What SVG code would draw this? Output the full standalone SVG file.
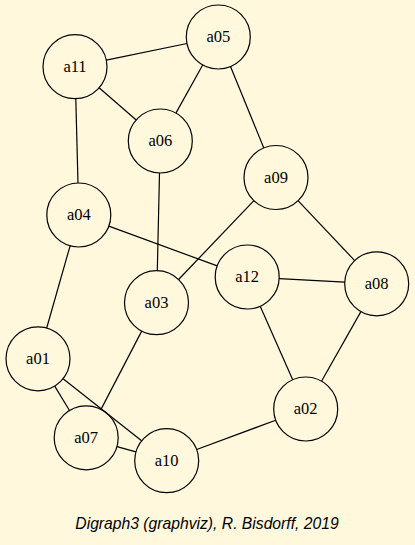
<svg xmlns="http://www.w3.org/2000/svg" width="415" height="545" viewBox="0 0 415 545">
  <style>
    .node circle { fill: none; stroke: #000; stroke-width: 1.2; }
    .node text { font-family: "Liberation Serif", "Times New Roman", serif; font-size: 16.5px; text-anchor: middle; fill: #000; }
    .edges line { stroke: #000; stroke-width: 1.2; }
    .caption { font-family: "Liberation Sans", Arial, sans-serif; font-size: 15.7px; font-style: italic; text-anchor: middle; fill: #000; }
  </style>
  <rect width="415" height="545" fill="#FFF8DC"/>

  <g id="edges" class="edges">
    <line x1="106.3" y1="60.2" x2="187.0" y2="43.5"/>
    <line x1="99.1" y1="87.7" x2="136.2" y2="120.0"/>
    <line x1="202.7" y1="65.0" x2="175.9" y2="113.1"/>
    <line x1="230.5" y1="66.6" x2="263.8" y2="147.9"/>
    <line x1="75.8" y1="98.7" x2="78.0" y2="183.0"/>
    <line x1="159.5" y1="173.0" x2="157.3" y2="270.7"/>
    <line x1="253.9" y1="200.6" x2="178.6" y2="279.5"/>
    <line x1="298.0" y1="200.7" x2="354.7" y2="260.6"/>
    <line x1="108.8" y1="226.1" x2="217.2" y2="265.9"/>
    <line x1="70.1" y1="245.8" x2="46.7" y2="328.0"/>
    <line x1="279.2" y1="278.7" x2="344.7" y2="282.1"/>
    <line x1="260.2" y1="306.3" x2="292.7" y2="379.7"/>
    <line x1="360.9" y1="311.6" x2="321.5" y2="381.2"/>
    <line x1="141.7" y1="331.1" x2="101.0" y2="409.4"/>
    <line x1="54.7" y1="386.1" x2="69.5" y2="410.5"/>
    <line x1="63.1" y1="378.7" x2="141.6" y2="440.8"/>
    <line x1="117.0" y1="446.6" x2="135.9" y2="451.9"/>
    <line x1="196.7" y1="449.5" x2="275.7" y2="420.2"/>
  </g>

  <g id="a05" class="node"><circle cx="218.3" cy="37" r="32"/><text x="218.3" y="42">a05</text></g>
  <g id="a11" class="node"><circle cx="75" cy="66.7" r="32"/><text x="75" y="71.7">a11</text></g>
  <g id="a06" class="node"><circle cx="160.3" cy="141" r="32"/><text x="160.3" y="146">a06</text></g>
  <g id="a09" class="node"><circle cx="276" cy="177.5" r="32"/><text x="276" y="182.5">a09</text></g>
  <g id="a04" class="node"><circle cx="78.8" cy="215" r="32"/><text x="78.8" y="220">a04</text></g>
  <g id="a03" class="node"><circle cx="156.5" cy="302.7" r="32"/><text x="156.5" y="307.7">a03</text></g>
  <g id="a12" class="node"><circle cx="247.2" cy="277" r="32"/><text x="247.2" y="282">a12</text></g>
  <g id="a08" class="node"><circle cx="376.7" cy="283.8" r="32"/><text x="376.7" y="288.8">a08</text></g>
  <g id="a01" class="node"><circle cx="38" cy="358.8" r="32"/><text x="38" y="363.8">a01</text></g>
  <g id="a02" class="node"><circle cx="305.7" cy="409" r="32"/><text x="305.7" y="414">a02</text></g>
  <g id="a07" class="node"><circle cx="86.2" cy="437.8" r="32"/><text x="86.2" y="442.8">a07</text></g>
  <g id="a10" class="node"><circle cx="166.7" cy="460.7" r="32"/><text x="166.7" y="465.7">a10</text></g>

  <text class="caption" x="207" y="529.3">Digraph3 (graphviz), R. Bisdorff, 2019</text>
</svg>
